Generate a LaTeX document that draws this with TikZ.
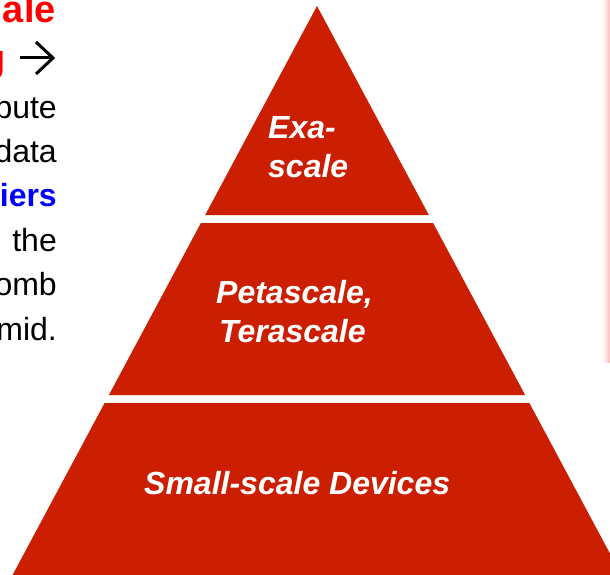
\documentclass[tikz,border=0pt]{standalone}
\usepackage{fontspec}
\setmainfont{Liberation Sans}
\definecolor{pyr}{RGB}{204,30,0}
\definecolor{shadowpink}{RGB}{248,190,190}
\begin{document}
\begin{tikzpicture}[x=1pt,y=-1pt,
  lefttext/.style={anchor=base east, inner sep=0pt, font=\fontsize{32}{38}\selectfont},
  headtext/.style={anchor=base east, inner sep=0pt, text=red, font=\bfseries\fontsize{38}{44}\selectfont},
  pyrlabel/.style={anchor=base west, inner sep=0pt, text=white, font=\bfseries\itshape\fontsize{32}{38}\selectfont},
  arrowline/.style={line width=3pt, black}
]
\useasboundingbox (0,0) rectangle (610,575);
\clip (0,0) rectangle (610,575);

% faint shadow edge on the right
\shade[left color=white, right color=shadowpink] (602,0) rectangle (610,362);

% pyramid layers
\fill[pyr] (317,6) -- (428.8,215) -- (205.2,215) -- cycle;
\fill[pyr] (200.9,223) -- (433.1,223) -- (525.1,395) -- (108.9,395) -- cycle;
\fill[pyr] (104.6,403) -- (529.4,403) -- (634.8,600) -- (-0.8,600) -- cycle;

% pyramid labels
\node[pyrlabel] (exa1) at (268,139) {Exa-};
\node[pyrlabel] (exa2) at (268,177) {scale};
\node[pyrlabel] (peta) at (216,303) {Petascale,};
\node[pyrlabel] (tera) at (219,342) {Terascale};
\node[pyrlabel] (small) at (144,494) {Small-scale Devices};

% left-hand text (cropped at the page edge, as in the reference)
\node[headtext] (l1) at (56,23) {ale};
\node[headtext] (l2) at (5.5,72) {g};
\coordinate (arrS) at (20,58);
\coordinate (arrE) at (53,58);
\draw[arrowline] (arrS) -- (arrE);
\draw[arrowline, line join=miter] (36,42) -- (arrE) -- (36,74);
\node[lefttext] (l3) at (57,118) {bute};
\node[lefttext] (l4) at (57,162.4) {data};
\node[lefttext, text=blue, font=\bfseries\fontsize{32}{38}\selectfont] (l5) at (57,206.8) {iers};
\node[lefttext] (l6) at (57,251.2) {the};
\node[lefttext] (l7) at (57,295.6) {omb};
\node[lefttext] (l8) at (57,340) {mid.};
\end{tikzpicture}
\end{document}
